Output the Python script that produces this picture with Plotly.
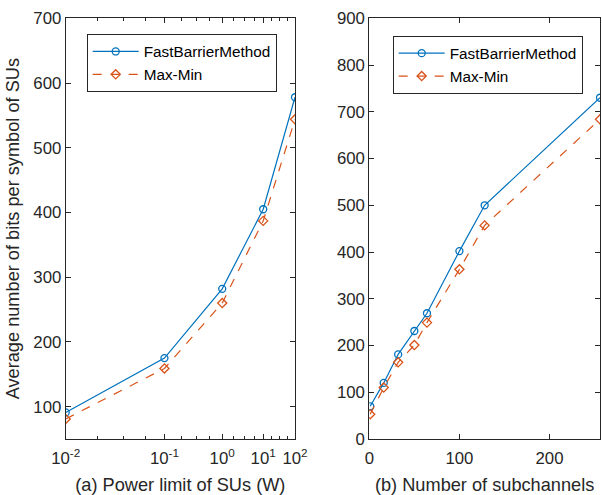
import plotly.graph_objects as go
import numpy as np

# ---- data ----
power_labels = ["10<sup>-2</sup>", "10<sup>-1</sup>", "10<sup>0</sup>", "10<sup>1</sup>", "10<sup>2</sup>"]
power_pos = [1, 2, 3, 4, 5]          # axis position index for each power level
fbm_power = [91, 175, 282, 405, 578]
maxmin_power = [81, 159, 260, 387, 544]

subchannels = [1, 16, 32, 50, 64, 100, 128, 256]
fbm_sub = [70, 120, 181, 231, 269, 402, 500, 730]
maxmin_sub = [53, 110, 164, 201, 249, 363, 457, 684]

minor_pos = [1.25, 1.5, 1.75, 2.25, 2.5, 2.75, 3.25, 3.5, 3.75, 4.25, 4.5, 4.75]

BLUE = "#0072BD"
ORANGE = "#D95319"
AX = "#262626"
FONT = "Liberation Sans, Arial, Helvetica, sans-serif"

W, H = 602, 495

fig = go.Figure()

def add(x, y, name, color, dash, symbol, xa, ya, lg):
    fig.add_trace(go.Scatter(x=x, y=y, mode="lines+markers", name=name,
                             line=dict(color=color, width=1.2, dash=dash),
                             marker=dict(symbol=symbol, size=7, color=color, line=dict(width=1.3)),
                             xaxis=xa, yaxis=ya, legend=lg))

add(power_pos, fbm_power, "FastBarrierMethod", BLUE, "solid", "circle-open", "x", "y", "legend")
add(power_pos, maxmin_power, "Max-Min", ORANGE, "dash", "diamond-open", "x", "y", "legend")
add(subchannels, fbm_sub, "FastBarrierMethod", BLUE, "solid", "circle-open", "x2", "y2", "legend2")
add(subchannels, maxmin_sub, "Max-Min", ORANGE, "dash", "diamond-open", "x2", "y2", "legend2")

y_dom = [1 - 439 / H, 1 - 18.3 / H]
common = dict(showline=True, linecolor=AX, linewidth=1, mirror="ticks", ticks="inside",
              ticklen=5, tickcolor=AX, tickwidth=1, showgrid=False, zeroline=False,
              automargin=False,
              tickfont=dict(family=FONT, size=16.8, color=AX))
TFONT = dict(family=FONT, size=18.2, color=AX)
LFONT = dict(family=FONT, size=15.3, color="#000000")

fig.update_layout(
    width=W, height=H,
    margin=dict(l=0, r=0, t=0, b=0, autoexpand=False),
    paper_bgcolor="white", plot_bgcolor="white",
    font=dict(family=FONT, color=AX),
    xaxis=dict(domain=[65.7 / W, 295 / W], type="log", range=[0, np.log10(5)],
               tickmode="array", tickvals=power_pos, ticktext=power_labels,
               minor=dict(tickvals=minor_pos, ticks="inside", ticklen=3, tickcolor=AX, tickwidth=1),
               ticklabelstandoff=4,
               title=dict(text="(a) Power limit of SUs (W)", font=TFONT, standoff=14),
               anchor="y", **common),
    yaxis=dict(domain=y_dom, range=[50, 700], tickvals=[100, 200, 300, 400, 500, 600, 700],
               title=dict(text="Average number of bits per symbol of SUs", font=TFONT, standoff=8),
               anchor="x", **common),
    xaxis2=dict(domain=[369.3 / W, 600 / W], range=[0, 256], tickvals=[0, 100, 200],
                ticklabelstandoff=4,
                title=dict(text="(b) Number of subchannels", font=TFONT, standoff=14),
                anchor="y2", **common),
    yaxis2=dict(domain=y_dom, range=[0, 900], tickvals=list(range(0, 1000, 100)),
                anchor="x2", **common),
    legend=dict(x=86.7 / W, y=1 - 34 / H, xanchor="left", yanchor="top",
                bordercolor=AX, borderwidth=1, bgcolor="white",
                font=LFONT, tracegroupgap=0, itemwidth=46),
    legend2=dict(x=392.7 / W, y=1 - 35.7 / H, xanchor="left", yanchor="top",
                 bordercolor=AX, borderwidth=1, bgcolor="white",
                 font=LFONT, tracegroupgap=0, itemwidth=46),
    showlegend=True,
)

fig.write_html("out.html", config={"displayModeBar": False},
               post_script="document.documentElement.style.margin='0';document.body.style.margin='0';"
                           "document.body.style.padding='0';document.body.style.overflow='hidden';")
